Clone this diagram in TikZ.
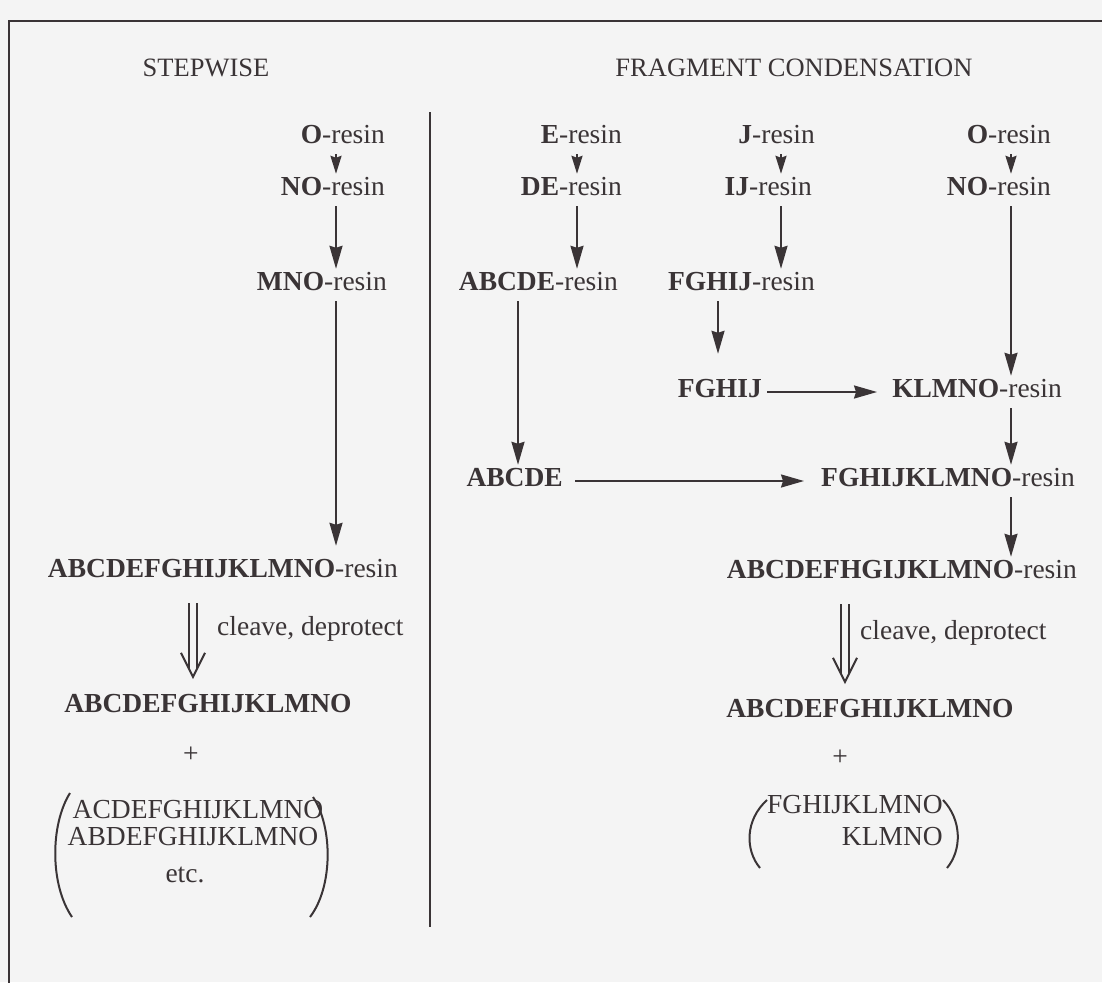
\documentclass[tikz,border=0pt]{standalone}
\usepackage{fontspec}
\setmainfont{Liberation Serif}
\usetikzlibrary{arrows.meta}

\definecolor{tinta}{RGB}{58,52,54}
\definecolor{fondo}{RGB}{244,244,244}

\tikzset{
  texto/.style={inner xsep=0pt, inner ysep=3pt, text height=18pt, text depth=8pt,
    text=tinta, font=\fontsize{27.5}{30}\selectfont},
  titulo/.style={anchor=base, inner sep=0pt, text=tinta, font=\fontsize{26.5}{30}\selectfont},
  flecha/.style={tinta, line width=2pt, -{Stealth[length=23pt, width=13pt, inset=2pt]}},
  flechita/.style={tinta, line width=2pt, -{Stealth[length=18pt, width=11pt, inset=2pt]}},
  doble/.style={tinta, line width=1.9pt, double=fondo, double distance=5.5pt,
    shorten <=15pt, shorten >=23pt},
  punta/.style={tinta, line width=2pt, line join=miter},
  parentesis/.style={tinta, line width=2pt}
}

\begin{document}
\begin{tikzpicture}[x=1pt, y=-1pt]

        % Fondo y marco (el marco sigue fuera del recorte)
        \useasboundingbox (0,0) rectangle (1102,982);
        \fill[fondo] (0,0) rectangle (1102,982);
        \clip (0,0) rectangle (1102,982);
        \draw[tinta, line width=2.5pt] (9,1100) -- (9,21) -- (1200,21);

        % Titulos de las dos columnas
        \node[titulo] (tituloI) at (206,76) {STEPWISE};
        \node[titulo] (tituloD) at (794,76) {FRAGMENT CONDENSATION};

        % Linea divisoria
        \draw[tinta, line width=2.5pt] (430,112) -- (430,927);

        % Columnas de las flechas (solo importa la x)
        \coordinate (colI) at (336,0);
        \coordinate (dobleI) at (193,0);
        \coordinate (colE) at (577,0);
        \coordinate (colD) at (518,0);
        \coordinate (colJ) at (781,0);
        \coordinate (colF) at (718,0);
        \coordinate (colO) at (1011,0);
        \coordinate (dobleD) at (845,0);

        % Sintesis paso a paso
        \node[texto, anchor=base east] (oI) at (385,143) {\textbf{O}-resin};
        \node[texto, anchor=base east] (noI) at (385,195) {\textbf{NO}-resin};
        \node[texto, anchor=base east] (mnoI) at (387,290) {\textbf{MNO}-resin};
        \node[texto, anchor=base east] (largoI) at (398,577) {\textbf{ABCDEFGHIJKLMNO}-resin};
        \node[texto, anchor=base west] (cortaI) at (217,635) {cleave, deprotect};
        \node[texto, anchor=base] (finI) at (208,712) {\textbf{ABCDEFGHIJKLMNO}};
        \node[texto, anchor=base] (masI) at (191,762) {+};
        \node[texto, anchor=base] (subI1) at (198,818) {ACDEFGHIJKLMNO};
        \node[texto, anchor=base] (subI2) at (193,845) {ABDEFGHIJKLMNO};
        \node[texto, anchor=base] (subI3) at (185,882) {etc.};

        \draw[flechita] (oI.south -| colI) -- (noI.north -| colI);
        \draw[flecha] (noI.south -| colI) -- (mnoI.north -| colI);
        \draw[flecha, shorten >=10pt] (mnoI.south -| colI) -- (largoI.north -| colI);

        % Flecha doble (cortar y desproteger)
        \draw[doble] (largoI.south -| dobleI) -- (finI.north -| dobleI);
        \draw[punta] ([shift={(-12pt,38pt)}]finI.north -| dobleI) -- ([yshift=14pt]finI.north -| dobleI)
          -- ([shift={(12pt,38pt)}]finI.north -| dobleI);

        % Parentesis de los subproductos
        \draw[parentesis] (70,793) .. controls (50,825) and (50,885) .. (72,917);
        \draw[parentesis] (313,797) .. controls (333,827) and (333,887) .. (310,917);

        % Condensacion de fragmentos: tres cadenas en paralelo
        \node[texto, anchor=base east] (eD) at (622,143) {\textbf{E}-resin};
        \node[texto, anchor=base east] (deD) at (622,195) {\textbf{DE}-resin};
        \node[texto, anchor=base east] (abcdeR) at (618,290) {\textbf{ABCDE}-resin};
        \node[texto, anchor=base east] (jD) at (815,143) {\textbf{J}-resin};
        \node[texto, anchor=base east] (ijD) at (812,195) {\textbf{IJ}-resin};
        \node[texto, anchor=base east] (fghijR) at (815,290) {\textbf{FGHIJ}-resin};
        \node[texto, anchor=base east] (oD) at (1051,143) {\textbf{O}-resin};
        \node[texto, anchor=base east] (noD) at (1051,195) {\textbf{NO}-resin};

        \draw[flechita] (eD.south -| colE) -- (deD.north -| colE);
        \draw[flecha] (deD.south -| colE) -- (abcdeR.north -| colE);
        \draw[flechita] (jD.south -| colJ) -- (ijD.north -| colJ);
        \draw[flecha] (ijD.south -| colJ) -- (fghijR.north -| colJ);
        \draw[flechita] (oD.south -| colO) -- (noD.north -| colO);

        % Fragmentos cortados y acoplamientos
        \node[texto, anchor=base east] (fghij) at (762,397) {\textbf{FGHIJ}};
        \node[texto, anchor=base east] (klmno) at (1062,397) {\textbf{KLMNO}-resin};
        \node[texto, anchor=base east] (abcde) at (563,486) {\textbf{ABCDE}};
        \node[texto, anchor=base east] (fghijklmno) at (1075,486) {\textbf{FGHIJKLMNO}-resin};
        \node[texto, anchor=base east] (largoD) at (1077,578) {\textbf{ABCDEFHGIJKLMNO}-resin};
        \node[texto, anchor=base west] (cortaD) at (860,639) {cleave, deprotect};
        \node[texto, anchor=base] (finD) at (870,717) {\textbf{ABCDEFGHIJKLMNO}};
        \node[texto, anchor=base] (masD) at (840,765) {+};
        \node[texto, anchor=base east] (subD1) at (943,813) {FGHIJKLMNO};
        \node[texto, anchor=base east] (subD2) at (943,845) {KLMNO};

        \draw[flecha, shorten >=22pt] (fghijR.south -| colF) -- (fghij.north -| colF);
        \draw[flecha] (abcdeR.south -| colD) -- (abcde.north -| colD);
        \draw[flecha] (noD.south -| colO) -- (klmno.north -| colO);
        \draw[flecha, shorten <=5pt, shorten >=15pt] (fghij) -- (klmno);
        \draw[flecha, shorten <=12pt, shorten >=17pt] (abcde) -- (fghijklmno);
        \draw[flecha] (klmno.south -| colO) -- (fghijklmno.north -| colO);
        \draw[flecha] (fghijklmno.south -| colO) -- (largoD.north -| colO);

        % Flecha doble de la derecha
        \draw[doble] (largoD.south -| dobleD) -- (finD.north -| dobleD);
        \draw[punta] ([shift={(-12pt,38pt)}]finD.north -| dobleD) -- ([yshift=14pt]finD.north -| dobleD)
          -- ([shift={(12pt,38pt)}]finD.north -| dobleD);

        % Parentesis de los fragmentos sobrantes
        \draw[parentesis] (767,800) .. controls (745,820) and (745,850) .. (760,868);
        \draw[parentesis] (943,800) .. controls (962,820) and (962,850) .. (947,868);

\end{tikzpicture}
\end{document}
